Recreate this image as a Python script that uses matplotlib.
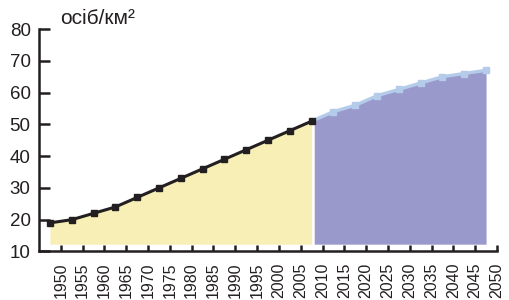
import numpy as np
import matplotlib
matplotlib.use("Agg")
import matplotlib.pyplot as plt

plt.rcParams['font.family'] = ['Liberation Sans', 'DejaVu Sans']

# density, persons per km2
hist_vals = [19, 20, 22, 24, 27, 30, 33, 36, 39, 42, 45, 48, 51]
proj_vals = [54, 56, 59, 61, 63, 65, 66, 67]
tick_years = list(range(1950, 2051, 5))
unit_label = "осіб/км²"

hist_x = np.arange(len(hist_vals))
proj_x = np.arange(len(hist_vals), len(hist_vals) + len(proj_vals))

base = 12.3
black = '#231f20'
yellow = '#f7efb6'
purple = '#9999cc'
lightblue = '#b5cbea'

fig = plt.figure(figsize=(5.09, 3.0), dpi=100)
ax = fig.add_axes([0.0766, 0.1617, 0.8998, 0.7416])

# yellow area under the observed line
ax.fill_between(hist_x, base, hist_vals, color=yellow, lw=0)

# purple area under projection, starting just right of the last observed point
px = np.concatenate(([hist_x[-1]], proj_x))
py = np.concatenate(([hist_vals[-1]], proj_vals))
fx = np.concatenate(([hist_x[-1] + 0.12], proj_x))
fy = np.interp(fx, px, py)
ax.fill_between(fx, base, fy, color=purple, lw=0)

ax.plot(px, py, color=lightblue, lw=2.4, zorder=3)
ax.plot(proj_x, proj_vals, ls='none', marker='s', ms=5, color=lightblue, zorder=4)
ax.plot(hist_x, hist_vals, color=black, lw=2.2, marker='s', ms=5, zorder=5)

ax.set_xlim(-0.5, 20.5)
ax.set_ylim(10, 80)
ax.set_yticks(range(10, 81, 10))
ax.set_xticks(np.arange(len(tick_years)) + 0.5)
ax.set_xticklabels(tick_years, rotation=90, fontsize=11.5, color=black)

for s in ['top', 'right']:
    ax.spines[s].set_visible(False)
for s in ['left', 'bottom']:
    ax.spines[s].set_linewidth(1.8)
    ax.spines[s].set_color(black)

ax.tick_params(axis='y', direction='in', length=8, width=1.8, pad=6,
               labelsize=13.5, colors=black)
ax.tick_params(axis='x', direction='in', length=4, width=1.8, pad=8,
               colors=black)

fig.text(60 / 509, 1 - 24 / 300, unit_label, fontsize=15, color=black,
         ha='left', va='baseline')

fig.savefig('out.png', dpi=100)
